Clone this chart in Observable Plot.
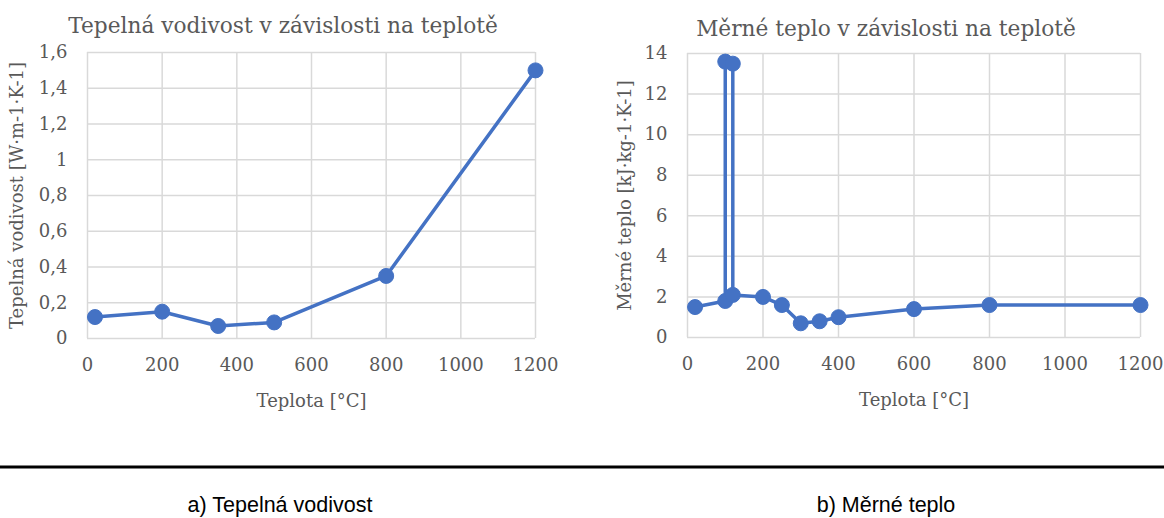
<!DOCTYPE html>
<html>
<head>
<meta charset="utf-8">
<script src="https://cdn.jsdelivr.net/npm/d3@7"></script>
<script src="https://cdn.jsdelivr.net/npm/@observablehq/plot@0.6"></script>
<style>
  html, body { margin: 0; padding: 0; background: #fff; }
  #wrap { position: relative; width: 1164px; height: 518px; overflow: hidden; }
  #wrap > svg, #wrap > div { position: absolute; }
</style>
</head>
<body>
<div id="wrap"></div>
<script>
// ---- data ----
const tempA = [20, 200, 350, 500, 800, 1200];
const conductivity = [0.12, 0.15, 0.07, 0.09, 0.35, 1.5];

const tempB = [20, 100, 100, 120, 120, 200, 250, 300, 350, 400, 600, 800, 1200];
const specificHeat = [1.5, 1.8, 13.6, 13.5, 2.1, 2.0, 1.6, 0.7, 0.8, 1.0, 1.4, 1.6, 1.6];

const xTicks = [0, 200, 400, 600, 800, 1000, 1200];
const yTicksA = [0, 0.2, 0.4, 0.6, 0.8, 1.0, 1.2, 1.4, 1.6];
const yTicksB = [0, 2, 4, 6, 8, 10, 12, 14];

const titleA = "Tepelná vodivost v závislosti na teplotě";
const titleB = "Měrné teplo v závislosti na teplotě";
const xLabel = "Teplota [°C]";
const yLabelA = "Tepelná vodivost [W·m-1·K-1]";
const yLabelB = "Měrné teplo [kJ·kg-1·K-1]";
const captionA = "a) Tepelná vodivost";
const captionB = "b) Měrné teplo";

const dataA = tempA.map((t, i) => ({t, v: conductivity[i]}));
const dataB = tempB.map((t, i) => ({t, v: specificHeat[i]}));

const blue = "#4472c4";
const gridColor = "#d9d9d9";
const textColor = "#595959";
const comma = d => String(Math.round(d * 10) / 10).replace(".", ",");

function chart(data, yDomain, yTicks, yLabel, fmt, m, labelOffsetY) {
  return Plot.plot({
    width: 582,
    height: 420,
    marginLeft: m[0], marginRight: m[1], marginTop: m[2], marginBottom: m[3],
    style: {fontFamily: "'DejaVu Serif', serif", fontSize: "18px", color: textColor, background: "transparent"},
    x: {domain: [0, 1200]},
    y: {domain: yDomain},
    marks: [
      Plot.gridX(xTicks, {stroke: gridColor, strokeOpacity: 1, strokeWidth: 1.5}),
      Plot.gridY(yTicks, {stroke: gridColor, strokeOpacity: 1, strokeWidth: 1.5}),
      Plot.axisX(xTicks, {tickSize: 0, tickPadding: 20, fontSize: 18, tickFormat: d => String(d), label: xLabel, labelAnchor: "center", labelArrow: "none", labelOffset: 68}),
      Plot.axisY(yTicks, {tickSize: 0, tickPadding: 20, fontSize: 18, tickFormat: fmt, label: yLabel, labelAnchor: "center", labelArrow: "none", labelOffset: labelOffsetY}),
      Plot.line(data, {x: "t", y: "v", stroke: blue, strokeWidth: 3.5, strokeLinejoin: "round", strokeLinecap: "round"}),
      Plot.dot(data, {x: "t", y: "v", r: 7.5, fill: blue, stroke: blue, strokeWidth: 1})
    ]
  });
}

const wrap = document.getElementById("wrap");
const pA = chart(dataA, [0, 1.6], yTicksA, yLabelA, comma, [87, 47, 52, 82], 77);
pA.style.left = "0px"; pA.style.top = "0px";
wrap.appendChild(pA);
const pB = chart(dataB, [0, 14], yTicksB, yLabelB, d => String(d), [105, 24, 53, 83], 69);
pB.style.left = "582px"; pB.style.top = "0px";
wrap.appendChild(pB);

// titles, separator rule and captions
const ov = d3.select(wrap).append("svg")
  .attr("width", 1164).attr("height", 518)
  .style("left", "0px").style("top", "0px").style("pointer-events", "none");
ov.append("text").attr("x", 283).attr("y", 33).attr("text-anchor", "middle")
  .attr("font-family", "'DejaVu Serif', serif").attr("font-size", 21.7).attr("fill", textColor).text(titleA);
ov.append("text").attr("x", 886).attr("y", 36).attr("text-anchor", "middle")
  .attr("font-family", "'DejaVu Serif', serif").attr("font-size", 21.7).attr("fill", textColor).text(titleB);
ov.append("line").attr("x1", 0).attr("x2", 1164).attr("y1", 467).attr("y2", 467)
  .attr("stroke", "#000").attr("stroke-width", 3);
ov.append("text").attr("x", 280).attr("y", 512).attr("text-anchor", "middle")
  .attr("font-family", "'Liberation Sans', Arial, sans-serif").attr("font-size", 21.5).attr("fill", "#000").text(captionA);
ov.append("text").attr("x", 886).attr("y", 512).attr("text-anchor", "middle")
  .attr("font-family", "'Liberation Sans', Arial, sans-serif").attr("font-size", 21.5).attr("fill", "#000").text(captionB);
</script>
</body>
</html>
